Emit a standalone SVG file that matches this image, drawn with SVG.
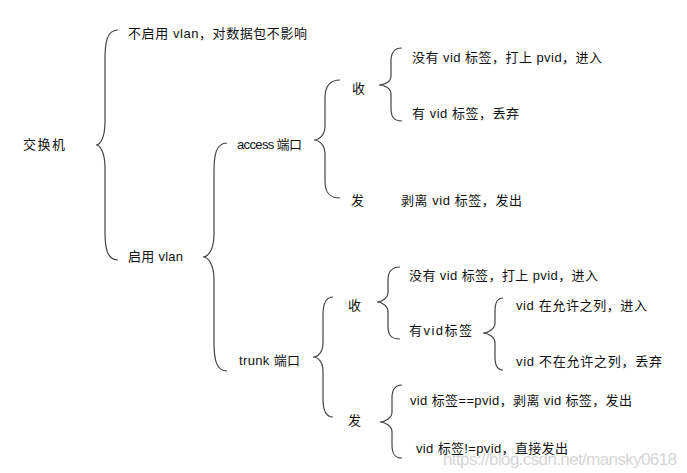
<svg xmlns="http://www.w3.org/2000/svg" width="687" height="473" viewBox="0 0 687 473">
<style>
text{font-family:"Liberation Sans","Noto Sans CJK SC",sans-serif;font-size:13px;fill:#111;}
.wm{font-family:"Liberation Sans",sans-serif;font-size:17px;fill:#d6d6d6;}
.brace{fill:none;stroke:#444;stroke-width:1.2;}
</style>
<rect width="687" height="473" fill="#fff"/>
<text class="wm" x="443" y="465" textLength="234">https://blog.csdn.net/mansky0618</text>
<g id="connectors">
<path class="brace" d="M118,30 C107,30 105,42 105,59 L105,122 C105,138 100,145 96,145 C100,145 105,152 105,168 L105,231 C105,248 107,260 118,260"/>
<path class="brace" d="M227,143 C216,143 214,155 214,172 L214,234 C214,250 208,257 203,257 C208,257 214,264 214,280 L214,342 C214,359 216,371 227,371"/>
<path class="brace" d="M340,80 C328,80 325,88 325,98 L325,126 C325,135 319,140 314,140 C319,140 325,145 325,154 L325,181 C325,191 328,198 340,198"/>
<path class="brace" d="M402,48 C393,48 391,54 391,61 L391,76 C391,82 384,85 379,85 C384,85 391,88 391,94 L391,108 C391,116 393,121 402,121"/>
<path class="brace" d="M333,297 C325,297 323,305 323,315 L323,343 C323,352 318,357 313,357 C318,357 323,362 323,371 L323,399 C323,409 325,417 333,417"/>
<path class="brace" d="M400,267 C390,267 388,273 388,280 L388,292 C388,298 382,302 377,302 C382,302 388,306 388,312 L388,326 C388,334 390,339 400,339"/>
<path class="brace" d="M503,298 C497,298 495,304 495,311 L495,323 C495,329 488,333 483,333 C488,333 495,337 495,343 L495,357 C495,365 497,370 503,370"/>
<path class="brace" d="M402,385 C394,385 392,391 392,398 L392,412 C392,418 385,422 380,422 C385,422 392,426 392,432 L392,445 C392,453 394,458 402,458"/>
</g>
<g id="switch"><text x="23" y="149" textLength="42">交换机</text></g>
<g id="no-vlan"><text x="128" y="38" textLength="179">不启用 vlan，对数据包不影响</text></g>
<g id="vlan"><text x="128" y="261" textLength="55">启用 vlan</text></g>
<g id="access"><text x="237" y="149" textLength="65">access 端口</text></g>
<g id="trunk"><text x="239" y="365" textLength="61">trunk 端口</text></g>
<g id="access-recv"><text x="352" y="93">收</text></g>
<g id="access-send"><text x="351" y="205">发</text></g>
<g id="access-recv-untag"><text x="412" y="62" textLength="190">没有 vid 标签，打上 pvid，进入</text></g>
<g id="access-recv-tag"><text x="412" y="118" textLength="107">有 vid 标签，丢弃</text></g>
<g id="access-send-strip"><text x="401" y="205" textLength="121">剥离 vid 标签，发出</text></g>
<g id="trunk-recv"><text x="348" y="310">收</text></g>
<g id="trunk-send"><text x="348" y="425">发</text></g>
<g id="trunk-recv-untag"><text x="409" y="280" textLength="189">没有 vid 标签，打上 pvid，进入</text></g>
<g id="trunk-recv-tag"><text x="409" y="335" textLength="63">有vid标签</text></g>
<g id="trunk-allowed"><text x="516" y="310" textLength="131">vid 在允许之列，进入</text></g>
<g id="trunk-not-allowed"><text x="516" y="366" textLength="146">vid 不在允许之列，丢弃</text></g>
<g id="trunk-send-eq"><text x="410" y="405" textLength="222">vid 标签==pvid，剥离 vid 标签，发出</text></g>
<g id="trunk-send-neq"><text x="416" y="453" textLength="152">vid 标签!=pvid，直接发出</text></g>
</svg>
